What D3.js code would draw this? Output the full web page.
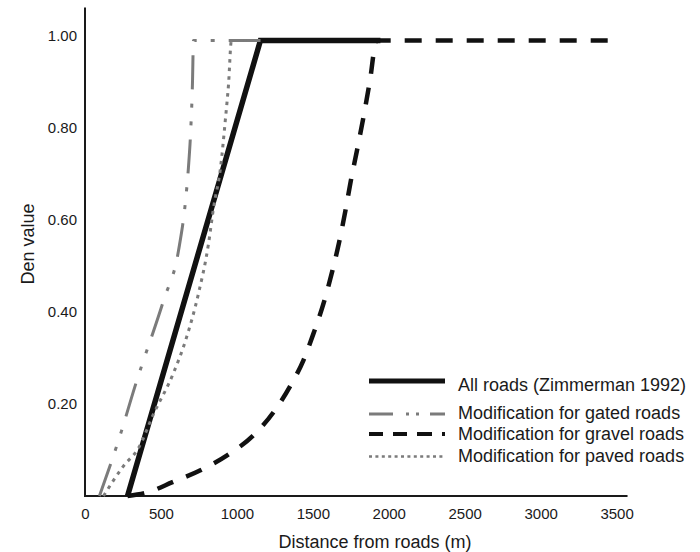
<!DOCTYPE html>
<html>
<head>
<meta charset="utf-8">
<script src="https://cdn.jsdelivr.net/npm/d3@7"></script>
<style>
  body { margin: 0; background: #fff; }
  text { font-family: "Liberation Sans", Arial, Helvetica, sans-serif; fill: #1a1a1a; }
</style>
</head>
<body>
<script>
// distance from roads (m) and Den value
const allRoads = [[280, 0], [1155, 0.99], [1945, 0.99]];
const gatedRoads = [[95, 0], [240, 0.141], [326, 0.235], [517, 0.425], [616, 0.534], [662, 0.642],
    [681, 0.714], [695, 0.788], [708, 0.903], [714, 0.99], [1155, 0.99]];
const gravelRoads = [[280, 0], [411, 0.008], [576, 0.03], [760, 0.056], [938, 0.089], [1109, 0.132],
    [1241, 0.182], [1353, 0.24], [1438, 0.295], [1504, 0.353], [1570, 0.418], [1629, 0.49], [1672, 0.55],
    [1715, 0.621], [1750, 0.685], [1790, 0.75], [1833, 0.823], [1877, 0.905], [1919, 0.99], [3480, 0.99]];
const pavedRoads = [[122, 0], [253, 0.065], [352, 0.104], [451, 0.178], [582, 0.267], [662, 0.338],
    [747, 0.44], [813, 0.548], [846, 0.626], [892, 0.713], [925, 0.821], [945, 0.895], [964, 0.99], [1155, 0.99]];

const xTicks = [0, 500, 1000, 1500, 2000, 2500, 3000, 3500];
const yTicks = [0.2, 0.4, 0.6, 0.8, 1.0];
const legendLabels = ["All roads (Zimmerman 1992)", "Modification for gated roads",
    "Modification for gravel roads", "Modification for paved roads"];

const width = 700, height = 552;
const svg = d3.select("body").append("svg")
    .attr("width", width)
    .attr("height", height);

const x = d3.scaleLinear().domain([0, 3500]).range([85, 616.6]);
const y = d3.scaleLinear().domain([0, 1]).range([496, 36]);

// axis lines (longer than the tick range)
svg.append("line")
    .attr("x1", x(0)).attr("x2", x(0))
    .attr("y1", y(0)).attr("y2", y(1.062))
    .attr("stroke", "#1a1a1a").attr("stroke-width", 2);
svg.append("line")
    .attr("x1", x(0) - 1).attr("x2", x(3572))
    .attr("y1", y(0)).attr("y2", y(0))
    .attr("stroke", "#1a1a1a").attr("stroke-width", 2);

const xAxis = svg.append("g")
    .attr("transform", `translate(0,${y(0)})`)
    .call(d3.axisBottom(x).tickValues(xTicks).tickSize(0).tickPadding(12).tickFormat(d3.format("d")));
xAxis.select(".domain").remove();
xAxis.selectAll("text").style("font-size", "15px").attr("fill", "#1a1a1a")
    .style("font-family", "'Liberation Sans', Arial, sans-serif");

const yAxis = svg.append("g")
    .attr("transform", `translate(${x(0)},0)`)
    .call(d3.axisLeft(y).tickValues(yTicks).tickSize(0).tickPadding(8).tickFormat(d3.format(".2f")));
yAxis.select(".domain").remove();
yAxis.selectAll("text").style("font-size", "15px").attr("fill", "#1a1a1a")
    .style("font-family", "'Liberation Sans', Arial, sans-serif");

svg.append("text")
    .attr("x", 375).attr("y", 548)
    .attr("text-anchor", "middle")
    .style("font-size", "18px")
    .text("Distance from roads (m)");

svg.append("text")
    .attr("transform", "translate(34,244) rotate(-90)")
    .attr("text-anchor", "middle")
    .style("font-size", "18px")
    .text("Den value");

// series
const series = [
    {data: gravelRoads, color: "#111", w: 4.5, dash: "17,14", curve: d3.curveMonotoneX},
    {data: allRoads, color: "#111", w: 5.5, dash: null, curve: d3.curveLinear},
    {data: gatedRoads, color: "#7b7b7b", w: 3, dash: "34,14,4,14,4,14", curve: d3.curveMonotoneX},
    {data: pavedRoads, color: "#7b7b7b", w: 3, dash: "3.5,5", curve: d3.curveMonotoneX}
];

for (let s of series) {
    const line = d3.line()
        .x(d => x(d[0]))
        .y(d => y(d[1]))
        .curve(s.curve);
    svg.append("path")
        .datum(s.data)
        .attr("d", line)
        .attr("fill", "none")
        .attr("stroke", s.color)
        .attr("stroke-width", s.w)
        .attr("stroke-dasharray", s.dash)
        .attr("stroke-linejoin", "miter");
}

// legend
const legendItems = [
    {label: legendLabels[0], color: "#111", w: 5, dash: null, ly: 381, ty: 391},
    {label: legendLabels[1], color: "#7b7b7b", w: 3, dash: "24,13,3,7,3,11", ly: 414, ty: 419},
    {label: legendLabels[2], color: "#111", w: 4, dash: "14,10,14,10,15,10,3,50", ly: 434, ty: 440},
    {label: legendLabels[3], color: "#7b7b7b", w: 2.5, dash: "3,3.4", ly: 456.5, ty: 462}
];

const legend = svg.selectAll(".legendItem")
    .data(legendItems)
    .enter()
    .append("g")
    .classed("legendItem", true);
legend.append("line")
    .attr("x1", 369).attr("x2", 445)
    .attr("y1", d => d.ly).attr("y2", d => d.ly)
    .attr("stroke", d => d.color)
    .attr("stroke-width", d => d.w)
    .attr("stroke-dasharray", d => d.dash);
legend.append("text")
    .attr("x", 458)
    .attr("y", d => d.ty)
    .style("font-size", "18px")
    .text(d => d.label);
</script>
</body>
</html>
